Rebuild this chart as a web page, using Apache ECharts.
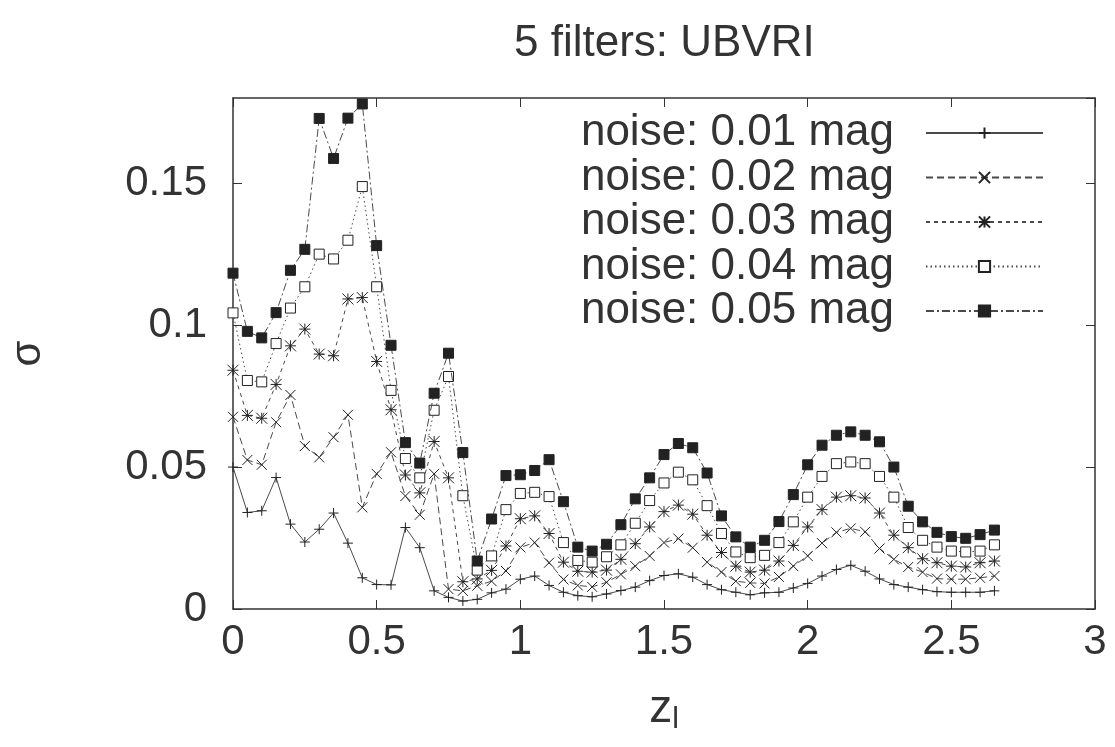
<!DOCTYPE html>
<html>
<head>
<meta charset="utf-8">
<script src="https://cdn.jsdelivr.net/npm/echarts@6/dist/echarts.min.js"></script>
<style>
html,body{margin:0;padding:0;background:#fff;}
#chart{width:1115px;height:747px;}
</style>
</head>
<body>
<div id="chart"></div>
<script>
// redshift z_l values
const zl = [0, 0.05, 0.1, 0.15, 0.2, 0.25, 0.3, 0.35, 0.4, 0.45,
  0.5, 0.55, 0.6, 0.65, 0.7, 0.75, 0.8, 0.85, 0.9, 0.95,
  1.0, 1.05, 1.1, 1.15, 1.2, 1.25, 1.3, 1.35, 1.4, 1.45,
  1.5, 1.55, 1.6, 1.65, 1.7, 1.75, 1.8, 1.85, 1.9, 1.95,
  2.0, 2.05, 2.1, 2.15, 2.2, 2.25, 2.3, 2.35, 2.4, 2.45,
  2.5, 2.55, 2.6, 2.65];

const seriesNames = ["noise: 0.01 mag", "noise: 0.02 mag", "noise: 0.03 mag", "noise: 0.04 mag", "noise: 0.05 mag"];

const noise001 = [0.050, 0.034, 0.0346, 0.0463, 0.0299, 0.0236, 0.0281, 0.0338, 0.0232, 0.011,
  0.0086, 0.0085, 0.0287, 0.0216, 0.0064, 0.0041, 0.0028, 0.0034, 0.0057, 0.007,
  0.0105, 0.0116, 0.0083, 0.0059, 0.0047, 0.0043, 0.0053, 0.0065, 0.0077, 0.010,
  0.0118, 0.0124, 0.0112, 0.0086, 0.0068, 0.0059, 0.005, 0.0057, 0.0059, 0.0074,
  0.009, 0.0116, 0.0139, 0.0154, 0.0133, 0.0106, 0.0086, 0.0077, 0.0068, 0.0061,
  0.0059, 0.0059, 0.0059, 0.0064];

const noise002 = [0.0677, 0.0525, 0.0508, 0.0658, 0.0754, 0.0574, 0.0534, 0.0605, 0.0684, 0.0358,
  0.0476, 0.0552, 0.0398, 0.0332, 0.0476, 0.007, 0.0064, 0.0082, 0.0098, 0.0134,
  0.0217, 0.0234, 0.0163, 0.0104, 0.0083, 0.0078, 0.0094, 0.0122, 0.0151, 0.0187,
  0.0234, 0.0248, 0.0216, 0.0165, 0.013, 0.0098, 0.0092, 0.009, 0.0113, 0.0151,
  0.0187, 0.0232, 0.027, 0.0284, 0.0272, 0.0213, 0.0175, 0.0148, 0.013, 0.0107,
  0.0105, 0.0105, 0.011, 0.0116];

const noise003 = [0.0841, 0.0682, 0.0672, 0.0791, 0.0927, 0.0986, 0.0898, 0.0892, 0.1092, 0.1097,
  0.0872, 0.0702, 0.0472, 0.0409, 0.059, 0.0462, 0.0096, 0.0106, 0.0136, 0.0222,
  0.0318, 0.0328, 0.0266, 0.0165, 0.0133, 0.013, 0.0137, 0.0175, 0.023, 0.0289,
  0.0343, 0.0366, 0.0334, 0.026, 0.0199, 0.0151, 0.013, 0.0137, 0.0169, 0.0224,
  0.0289, 0.035, 0.0394, 0.0399, 0.0391, 0.0338, 0.026, 0.0216, 0.0177, 0.0163,
  0.0151, 0.0148, 0.0163, 0.0169];

const noise004 = [0.1043, 0.0805, 0.080, 0.0935, 0.106, 0.1135, 0.125, 0.1233, 0.1299, 0.1488,
  0.1135, 0.077, 0.053, 0.0462, 0.07, 0.0819, 0.0399, 0.0137, 0.0187, 0.035,
  0.0407, 0.0411, 0.0396, 0.0234, 0.0171, 0.0165, 0.0184, 0.0226, 0.0302, 0.0382,
  0.0444, 0.0482, 0.0455, 0.0364, 0.0266, 0.0201, 0.0181, 0.0189, 0.0234, 0.0307,
  0.0394, 0.0467, 0.0512, 0.0518, 0.0512, 0.0467, 0.0394, 0.0287, 0.0242, 0.0218,
  0.0204, 0.0201, 0.0204, 0.0226];

const noise005 = [0.1183, 0.0978, 0.0955, 0.1044, 0.1193, 0.1267, 0.1728, 0.1587, 0.1729, 0.1779,
  0.128, 0.0929, 0.0586, 0.0514, 0.076, 0.0901, 0.0551, 0.0169, 0.0317, 0.047,
  0.0473, 0.0488, 0.0526, 0.0378, 0.0218, 0.0204, 0.0228, 0.0297, 0.0388, 0.0462,
  0.0544, 0.0583, 0.0568, 0.0479, 0.0328, 0.0254, 0.0218, 0.0242, 0.0308, 0.0403,
  0.0508, 0.0577, 0.0612, 0.0624, 0.0612, 0.0589, 0.05, 0.0362, 0.0307, 0.027,
  0.0255, 0.0249, 0.0262, 0.0278];

const allValues = [noise001, noise002, noise003, noise004, noise005];

const FONT = '"Liberation Sans", Arial, Helvetica, sans-serif';
const TXT = '#333';
const LINE = '#4a4a4a';

const PLUS = 'path://M5,0L5,10M0,5L10,5';
const CROSS = 'path://M0,0L10,10M10,0L0,10';
const STAR = 'path://M0,0L10,10M10,0L0,10M5,0L5,10M0,5L10,5';

const styles = [
  {symbol: PLUS, size: 10, fill: 'none', dash: 'solid'},
  {symbol: CROSS, size: 10, fill: 'none', dash: [7, 4]},
  {symbol: STAR, size: 11, fill: 'none', dash: [4, 4]},
  {symbol: 'rect', size: 10, fill: '#ffffff', dash: [1.5, 3]},
  {symbol: 'rect', size: 10, fill: '#222222', dash: [8, 3, 2, 3]}
];

const series = allValues.map((vals, k) => ({
  name: seriesNames[k],
  type: 'line',
  data: zl.map((z, i) => [z, vals[i]]),
  symbol: styles[k].symbol,
  symbolSize: styles[k].size,
  showAllSymbol: true,
  lineStyle: {color: LINE, width: 1, type: styles[k].dash},
  itemStyle: {color: styles[k].fill, borderColor: '#222', borderWidth: 1},
  emphasis: {disabled: true},
  z: 2 + k
}));

const chart = echarts.init(document.getElementById('chart'), null, {renderer: 'canvas'});
const axisLineStyle = {onZero: false, lineStyle: {color: '#333', width: 1.5}};
chart.setOption({
  animation: false,
  backgroundColor: '#fff',
  title: {
    text: '5 filters: UBVRI',
    left: 509, top: 17,
    textStyle: {fontFamily: FONT, fontSize: 44, fontWeight: 'normal', color: TXT}
  },
  legend: {
    data: seriesNames,
    orient: 'vertical',
    align: 'right',
    right: 66, top: 106,
    itemWidth: 117, itemHeight: 14,
    itemGap: 0.5,
    selectedMode: false,
    textStyle: {fontFamily: FONT, fontSize: 44, color: TXT, lineHeight: 44, padding: [0, 27, 0, 0]}
  },
  grid: {left: 233, right: 20, top: 98, bottom: 138, outerBoundsMode: 'none', containLabel: false},
  xAxis: [{
    type: 'value', min: 0, max: 3, interval: 0.5,
    position: 'bottom',
    name: '{z|z}{s|l}', nameLocation: 'middle', nameGap: 74,
    nameTextStyle: {rich: {
      z: {fontFamily: FONT, fontSize: 46, color: TXT},
      s: {fontFamily: FONT, fontSize: 30, color: TXT, padding: [22, 0, 0, 0]}
    }},
    axisLine: axisLineStyle,
    axisTick: {inside: true, length: 9, lineStyle: {color: '#333'}},
    axisLabel: {fontFamily: FONT, fontSize: 42, color: TXT, margin: 12},
    splitLine: {show: false}
  }, {
    type: 'value', min: 0, max: 3, interval: 0.5,
    position: 'top',
    axisLine: axisLineStyle,
    axisTick: {inside: true, length: 9, lineStyle: {color: '#333'}},
    axisLabel: {show: false},
    splitLine: {show: false}
  }],
  yAxis: [{
    type: 'value', min: 0, max: 0.18, interval: 0.05,
    position: 'left',
    name: 'σ', nameLocation: 'middle', nameGap: 184, nameRotate: 90,
    nameTextStyle: {fontFamily: FONT, fontSize: 42, color: TXT},
    axisLine: axisLineStyle,
    axisTick: {inside: true, length: 9, lineStyle: {color: '#333'}},
    axisLabel: {fontFamily: FONT, fontSize: 42, color: TXT, margin: 26, showMaxLabel: false},
    splitLine: {show: false}
  }, {
    type: 'value', min: 0, max: 0.18, interval: 0.05,
    position: 'right',
    axisLine: axisLineStyle,
    axisTick: {inside: true, length: 9, lineStyle: {color: '#333'}},
    axisLabel: {show: false},
    splitLine: {show: false}
  }],
  series: series
});
</script>
</body>
</html>
